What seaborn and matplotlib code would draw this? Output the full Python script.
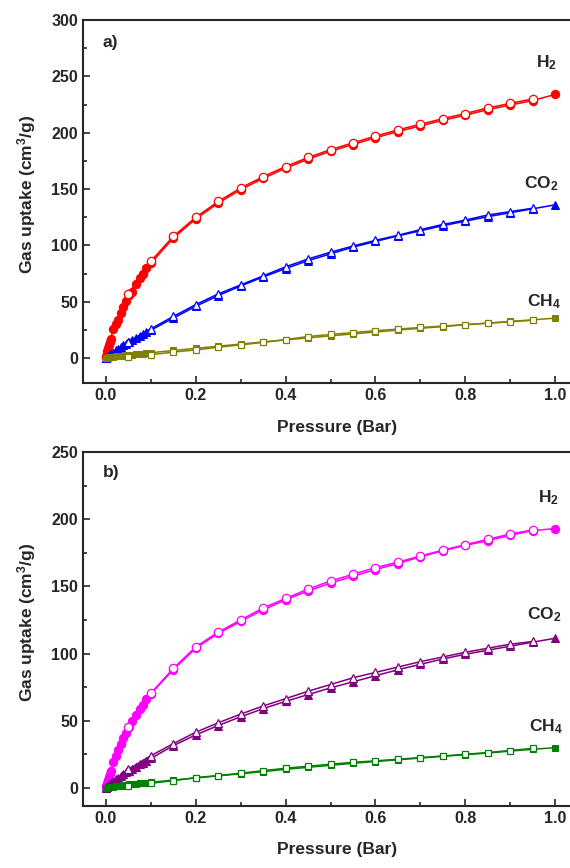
import matplotlib
matplotlib.use('Agg')
import matplotlib.pyplot as plt
from matplotlib.ticker import MultipleLocator
import seaborn as sns

# pressures (bar): adsorption branch and desorption branch
p_ads = [0.0005, 0.001, 0.002, 0.003, 0.005, 0.007, 0.009, 0.011, 0.016, 0.022,
         0.027, 0.033, 0.039, 0.045, 0.052, 0.059, 0.068, 0.077, 0.083, 0.09,
         0.1, 0.15, 0.2, 0.25, 0.3, 0.35, 0.4, 0.45, 0.5, 0.55, 0.6, 0.65,
         0.7, 0.75, 0.8, 0.85, 0.9, 0.95, 1.0]
p_des = [0.95, 0.9, 0.85, 0.8, 0.75, 0.7, 0.65, 0.6, 0.55, 0.5, 0.45, 0.4,
         0.35, 0.3, 0.25, 0.2, 0.15, 0.1, 0.05]

# panel a
h2_a_ads = [1, 2, 4, 6, 9, 12, 14, 17, 26, 30, 34, 40, 45, 51, 56, 59, 65.7, 70.7,
            75, 79.6, 84, 106.5, 123.5, 137.5, 149.5, 159.5, 168.5, 176.5, 183.5,
            189.5, 195.5, 201, 206, 211, 215.5, 220.5, 224.5, 228.5, 234]
h2_a_des = [230, 226, 222, 217, 212.5, 207.5, 202.5, 197, 191, 185, 178, 170,
            161, 151, 139, 125, 108, 86, 57]
co2_a_ads = [0.2, 0.4, 0.7, 1, 1.6, 2.2, 2.8, 3.4, 5, 6.8, 8.2, 9.8, 11.3, 12.8,
             14.4, 16, 18, 20, 21.3, 22.8, 24.8, 35.5, 46, 55.5, 64, 72, 79.5,
             86.5, 92.5, 98.5, 103.5, 108.5, 113, 117.5, 121.5, 125.5, 129,
             132.5, 136]
co2_a_des = [133, 130, 127, 122.5, 118.6, 114, 109, 104.5, 99.5, 94, 88, 81, 73,
             65, 57, 47.5, 37, 26, 14.5]
ch4_a_ads = [0.05, 0.1, 0.2, 0.3, 0.5, 0.7, 0.8, 0.9, 1.2, 1.5, 1.8, 2.0, 2.3,
             2.6, 2.9, 3.1, 3.5, 3.9, 4.1, 4.4, 4.8, 6.8, 8.7, 10.6, 12.5, 14.4,
             16.2, 18, 19.8, 21.5, 23.2, 24.9, 26.5, 28, 29.6, 31.1, 32.6, 34, 35.5]
ch4_a_des = [33.7, 32.2, 31, 29.8, 28.5, 27.2, 25.8, 24.3, 22.7, 21, 19.2, 16.5,
             14, 11.8, 9.7, 7.3, 5.4, 3, 1]

# panel b
h2_b_ads = [0.6, 1.2, 2.4, 3.5, 5.8, 8, 10.5, 13, 19, 24, 28, 32.5, 37, 41, 45.5,
            49.5, 54.5, 59, 62, 66, 70, 88, 104, 115, 124, 132.5, 140, 146.5,
            152.5, 157.5, 162.5, 167, 172, 176.5, 180.5, 184, 188, 191.5, 193]
h2_b_des = [192, 189, 185, 181, 177, 172.6, 168, 164, 159, 154, 148, 141, 134,
            125, 116, 105, 89, 70.5, 45.6]
co2_b_ads = [0.2, 0.4, 0.7, 1, 1.6, 2.2, 2.8, 3.4, 5, 6.4, 7.6, 9, 10.3, 11.6, 13,
             14.4, 16, 17.6, 18.6, 19.8, 22, 31.5, 39.5, 46.5, 53, 59, 64.5, 69.5,
             74.5, 79, 83.5, 88, 92, 96, 99.5, 102.5, 105.5, 108.5, 111.4]
co2_b_des = [109, 107, 104, 101, 97.5, 94, 90, 86, 82, 77, 72, 66.5, 61, 55, 48.5,
             41.5, 33, 24, 14]
ch4_b_ads = [0.03, 0.06, 0.12, 0.18, 0.3, 0.42, 0.54, 0.66, 0.95, 1.25, 1.5, 1.8,
             2.1, 2.4, 2.7, 3.0, 3.3, 3.6, 3.8, 4.0, 4.3, 5.9, 7.5, 9.0, 10.6,
             12.2, 13.9, 15.4, 16.9, 18.4, 19.7, 21, 22.3, 23.6, 24.8, 26, 27.5,
             28.8, 30]
ch4_b_des = [29.5, 27.9, 26.4, 25.1, 23.8, 22.6, 21.4, 20.2, 19.1, 17.7, 16.2,
             14.7, 12.9, 11, 9.3, 7.7, 5.5, 3.5, 1.5]

gas_labels = ['H$_2$', 'CO$_2$', 'CH$_4$']

sns.set_style('ticks')
plt.rcParams['font.family'] = ['Liberation Sans', 'DejaVu Sans']
plt.rcParams['font.weight'] = 'bold'
plt.rcParams['mathtext.fontset'] = 'custom'
plt.rcParams['mathtext.default'] = 'bf'
plt.rcParams['mathtext.bf'] = 'Liberation Sans:bold'
plt.rcParams['mathtext.rm'] = 'Liberation Sans:bold'


def draw_gas(ax, ads, des, color, marker, ms):
    sns.lineplot(x=p_ads, y=ads, ax=ax, sort=False, estimator=None, color=color,
                 marker=marker, markersize=ms, mfc=color, mec=color, lw=1.1)
    sns.lineplot(x=p_des, y=des, ax=ax, sort=False, estimator=None, color=color,
                 marker=marker, markersize=ms, mfc='white', mec=color, mew=0.9, lw=1.1)


def style_axes(ax, ymax, ymin, letter, letter_y):
    ax.set_xlim(-0.051, 1.033)
    ax.set_ylim(ymin, ymax)
    ax.xaxis.set_major_locator(MultipleLocator(0.2))
    ax.xaxis.set_minor_locator(MultipleLocator(0.1))
    ax.yaxis.set_major_locator(MultipleLocator(50))
    ax.yaxis.set_minor_locator(MultipleLocator(25))
    ax.tick_params(which='both', direction='in', width=1.2, labelsize=11.5,
                   top=False, right=False)
    ax.tick_params(which='major', length=5)
    ax.tick_params(which='minor', length=3)
    ax.xaxis.set_major_formatter(plt.FuncFormatter(lambda v, p: f'{v:.1f}'))
    for lab in ax.get_xticklabels() + ax.get_yticklabels():
        lab.set_fontweight('bold')
    for s in ['left', 'bottom', 'top']:
        ax.spines[s].set_linewidth(1.5)
    ax.spines['right'].set_visible(False)
    ax.set_xlabel('Pressure (Bar)', fontsize=12.5, fontweight='bold')
    ax.set_ylabel('Gas uptake (cm$^3$/g)', fontsize=12.5, fontweight='bold')
    ax.xaxis.set_label_coords(0.522, -0.103)
    ax.yaxis.set_label_coords(-0.092, 0.52)
    ax.text(0.041, letter_y, letter, transform=ax.transAxes, fontsize=12.5,
            fontweight='bold', va='center', ha='left')


fig = plt.figure(figsize=(5.7, 8.68), dpi=100)
ax1 = fig.add_axes([0.1456, 0.5588, 0.8544, 0.4182])
ax2 = fig.add_axes([0.1456, 0.0714, 0.8544, 0.4079])

draw_gas(ax1, h2_a_ads, h2_a_des, '#ff0000', 'o', 6)
draw_gas(ax1, co2_a_ads, co2_a_des, '#0000ff', '^', 6)
draw_gas(ax1, ch4_a_ads, ch4_a_des, '#808000', 's', 5)
style_axes(ax1, 300, -22, 'a)', 0.937)
for lab, (x, y) in zip(gas_labels, [(0.98, 262), (0.969, 155), (0.975, 50)]):
    ax1.text(x, y, lab, fontsize=12.5, fontweight='bold', ha='center', va='center')

draw_gas(ax2, h2_b_ads, h2_b_des, '#ff00ff', 'o', 6)
draw_gas(ax2, co2_b_ads, co2_b_des, '#800080', '^', 6)
draw_gas(ax2, ch4_b_ads, ch4_b_des, '#008000', 's', 5)
style_axes(ax2, 250, -13.4, 'b)', 0.943)
for lab, (x, y) in zip(gas_labels, [(0.985, 216), (0.975, 129), (0.98, 45.4)]):
    ax2.text(x, y, lab, fontsize=12.5, fontweight='bold', ha='center', va='center')

fig.savefig('out.png', dpi=100)
